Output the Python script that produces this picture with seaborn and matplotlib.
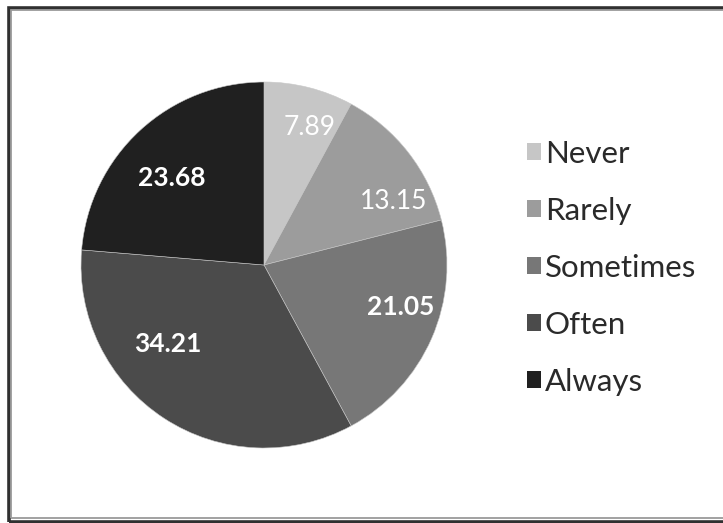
import matplotlib
matplotlib.use("Agg")
import matplotlib.pyplot as plt
import seaborn as sns
import numpy as np
from matplotlib.patches import Rectangle

# Survey response shares (percent)
categories = ["Never", "Rarely", "Sometimes", "Often", "Always"]
values = [7.89, 13.15, 21.05, 34.21, 23.68]
value_labels = ["7.89", "13.15", "21.05", "34.21", "23.68"]

sns.set_theme(style="white")
plt.rcParams["font.family"] = ["Lato", "DejaVu Sans"]

slice_colors = ["#c6c6c6", "#9c9c9c", "#777777", "#4b4b4b", "#202020"]
# label placement inside each slice: (angle offset from slice middle in degrees, radius fraction)
label_place = [(-4.4, 0.79), (-11.9, 0.785), (6.6, 0.78), (-17.4, 0.68), (4.0, 0.69)]
label_weight = ["normal", "normal", "bold", "bold", "bold"]

W, H = 723, 523
fig = plt.figure(figsize=(W / 100, H / 100), dpi=100)
fig.patch.set_facecolor("white")

cx, cy, r = 264, 265, 183
ax = fig.add_axes([(cx - r) / W, (H - cy - r) / H, 2 * r / W, 2 * r / H])
wedges, _ = ax.pie(values, colors=slice_colors, startangle=90, counterclock=False,
                   radius=1.0, wedgeprops=dict(linewidth=0.4, edgecolor="#c8c8c8"))
ax.set_xlim(-1, 1)
ax.set_ylim(-1, 1)
ax.axis("off")

for w, txt, (doff, rf), wt in zip(wedges, value_labels, label_place, label_weight):
    mid = np.deg2rad((w.theta1 + w.theta2) / 2 + doff)
    ax.text(rf * np.cos(mid), rf * np.sin(mid), txt, ha="center", va="center",
            color="white", fontsize=19, fontweight=wt)

leg = fig.legend(wedges, categories, loc="upper left",
                 bbox_to_anchor=(514.5 / W, 1 - 127 / H),
                 frameon=False, fontsize=22.5, handlelength=0.45, handleheight=0.45,
                 handletextpad=0.12, labelspacing=0.93, borderaxespad=0)
for t in leg.get_texts():
    t.set_color("#2a2a2a")
for h in leg.legend_handles:
    h.set_edgecolor("none")

# double frame around the chart area
fig.patches.append(Rectangle((8.5 / W, 1.5 / H), (W + 10) / W, (H - 9.5) / H,
                             transform=fig.transFigure, fill=False,
                             edgecolor="#303030", linewidth=2.6, zorder=10))
fig.patches.append(Rectangle((11 / W, 5 / H), (W + 10) / W, (H - 15) / H,
                             transform=fig.transFigure, fill=False,
                             edgecolor="#9a9a9a", linewidth=1.3, zorder=10))

fig.savefig("out.png", dpi=100)
